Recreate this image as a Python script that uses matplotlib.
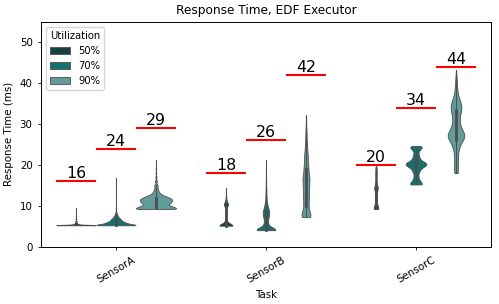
import matplotlib
matplotlib.use("Agg")
import matplotlib.pyplot as plt
import numpy as np
import pandas as pd
import seaborn as sns

tasks = ["SensorA", "SensorB", "SensorC"]
utils = ["50%", "70%", "90%"]
colors = ["#163f3f", "#16706e", "#5f9c9a"]

# deadlines (ms) per task, one list per utilization
deadline_50 = [16, 18, 20]
deadline_70 = [24, 26, 34]
deadline_90 = [29, 42, 44]

# response time samples: values (ms) and how often each was seen
a50_vals = [5.2, 5.3, 5.5, 5.8, 6.2, 6.8, 7.5, 8.4, 9.4]
a50_counts = [617, 343, 103, 55, 34, 21, 14, 7, 6]
a70_vals = [5.2, 5.4, 5.6, 5.8, 6.0, 6.2, 6.5, 6.8, 7.1, 7.5, 8.0, 8.6, 9.3, 10.0,
            10.8, 11.6, 12.5, 13.4, 14.3, 15.2, 16.0, 16.8]
a70_counts = [331, 163, 130, 103, 88, 76, 89, 66, 49, 43, 29, 8, 6, 4,
              2, 2, 2, 2, 2, 2, 2, 2]
a90_vals = [9.2, 9.5, 9.8, 10.1, 10.45, 10.8, 11.2, 11.6, 12.0, 12.4, 12.8, 13.2,
            13.7, 14.3, 15.0, 16.0, 17.0, 18.0, 19.0, 20.0, 21.2]
a90_counts = [160, 105, 100, 75, 85, 110, 126, 125, 100, 70, 38, 31,
              24, 21, 21, 14, 7, 4, 3, 2, 1]

b50_vals = [5.1, 5.4, 5.8, 6.3, 7.0, 7.7, 8.4, 9.1, 9.7, 10.1, 10.4, 10.8, 11.3,
            12.0, 12.8, 13.6, 14.3]
b50_counts = [139, 49, 32, 20, 12, 11, 11, 11, 14, 24, 26, 19, 12, 7, 5, 2, 1]
b70_vals = [4.0, 4.4, 4.8, 5.2, 5.8, 6.5, 7.2, 7.8, 8.4, 9.0, 9.6, 10.3, 11.0,
            12.0, 13.0, 14.0, 15.0, 16.0, 17.0, 18.0, 19.0, 20.0, 21.2]
b70_counts = [160, 57, 32, 22, 27, 28, 33, 36, 40, 33, 24, 20, 13,
              12, 9, 8, 5, 4, 3, 2, 2, 2, 1]
b90_vals = [7.2, 8.0, 9.0, 10.0, 11.0, 12.0, 13.0, 14.0, 15.0, 16.3, 17.5, 19.0,
            20.5, 22.0, 23.0, 24.0, 25.0, 26.0, 27.0, 28.0, 29.0, 30.0, 31.0, 32.1]
b90_counts = [28, 20, 14, 12, 14, 14, 14, 15, 18, 23, 19, 19,
              15, 12, 7, 6, 5, 4, 3, 3, 2, 1, 1, 1]

c50_vals = [9.2, 9.7, 10.2, 10.7, 11.2, 11.7, 12.2, 12.7, 13.2, 13.8, 14.3, 14.8,
            15.4, 16.0, 16.6, 17.2, 17.8, 18.4, 19.0, 19.7]
c50_counts = [22, 11, 8, 5, 5, 5, 5, 5, 5, 9, 13, 9, 5, 5, 5, 5, 5, 5, 5, 3]
c70_vals = [15.2, 15.6, 16.2, 16.9, 17.5, 18.2, 18.8, 19.4, 19.8, 20.2, 20.6, 21.0,
            21.6, 22.2, 22.8, 23.4, 23.9, 24.3, 24.6]
c70_counts = [51, 31, 33, 20, 19, 25, 33, 41, 49, 65, 49, 33, 30, 23, 19, 17, 28, 31, 33]
c90_vals = [18.0, 19.0, 20.0, 21.0, 22.0, 23.0, 24.0, 24.8, 25.5, 26.2, 26.8, 27.4,
            28.0, 28.7, 29.4, 30.2, 31.0, 31.8, 32.6, 33.4, 34.2, 35.0, 35.8, 36.6,
            37.4, 38.2, 39.2, 40.2, 41.2, 42.2, 43.2]
c90_counts = [14, 10, 11, 12, 12, 13, 15, 18, 21, 29, 31, 34,
              28, 25, 20, 17, 17, 18, 21, 25, 27, 25, 18, 12,
              9, 7, 7, 5, 4, 2, 1]

groups = [
    ("SensorA", "50%", a50_vals, a50_counts),
    ("SensorA", "70%", a70_vals, a70_counts),
    ("SensorA", "90%", a90_vals, a90_counts),
    ("SensorB", "50%", b50_vals, b50_counts),
    ("SensorB", "70%", b70_vals, b70_counts),
    ("SensorB", "90%", b90_vals, b90_counts),
    ("SensorC", "50%", c50_vals, c50_counts),
    ("SensorC", "70%", c70_vals, c70_counts),
    ("SensorC", "90%", c90_vals, c90_counts),
]

frames = []
for task, util, vals, counts in groups:
    v = np.repeat(vals, counts)
    frames.append(pd.DataFrame({"Task": task, "Utilization": util, "Response Time (ms)": v}))
df = pd.concat(frames, ignore_index=True)

fig = plt.figure(figsize=(4.99, 3.04), dpi=100)
ax = fig.add_axes([0.082, 0.189, 0.902, 0.739])

sns.violinplot(data=df, x="Task", y="Response Time (ms)", hue="Utilization",
               order=tasks, hue_order=utils, palette=colors, saturation=1,
               cut=0, bw_method=0.15, density_norm="count", common_norm=True,
               inner="box", inner_kws=dict(box_width=2.0, whis_width=0.7, marker=""),
               linewidth=0.6, linecolor=".3", ax=ax)

# deadline markers
dw = 0.8 / len(utils)
for j, dl in enumerate([deadline_50, deadline_70, deadline_90]):
    for i, d in enumerate(dl):
        xc = i + (j - 1) * dw
        ax.hlines(d, xc - dw / 2, xc + dw / 2, color="red", lw=1.5)
        ax.text(xc, d, str(d), ha="center", va="bottom", fontsize=11.3)

ax.set_ylim(0, 55)
ax.set_xlim(-0.5, 2.5)
ax.set_title("Response Time, EDF Executor", fontsize=8.7)
ax.set_xlabel("Task", fontsize=7.4)
ax.set_ylabel("Response Time (ms)", fontsize=7.4)
ax.tick_params(labelsize=7.4, length=2.5, width=0.6)
plt.setp(ax.get_xticklabels(), rotation=30)
for s in ax.spines.values():
    s.set_linewidth(0.7)

sns.move_legend(ax, "upper left", title="Utilization", fontsize=7.2, title_fontsize=7.2)

fig.savefig("out.png", dpi=100)
